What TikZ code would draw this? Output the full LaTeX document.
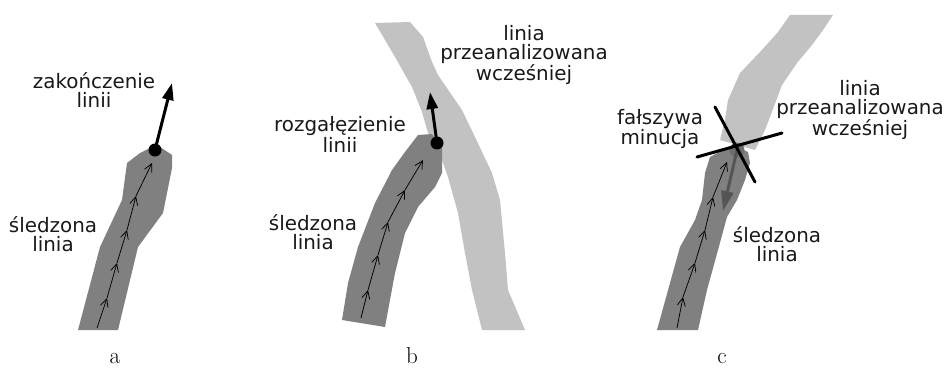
\documentclass[tikz,border=0pt]{standalone}
\usepackage{fontspec}
\newfontfamily\labfont{DejaVu Sans}
\usetikzlibrary{arrows.meta}
\definecolor{bandDark}{HTML}{808080}
\definecolor{bandLight}{HTML}{C2C2C2}
\definecolor{blobGrey}{HTML}{6E6E6E}
\definecolor{falseArrow}{HTML}{555555}
\begin{document}
\begin{tikzpicture}[x=1pt,y=-1pt,
  lbl/.style={font=\labfont\fontsize{19.9}{19}\selectfont, align=center, inner sep=0pt, text=black!90},
  caption/.style={font=\fontsize{23}{23}\selectfont, anchor=base, inner sep=0pt},
  darkband/.style={fill=bandDark},
  lightband/.style={fill=bandLight},
  trail/.style={line width=0.75pt, -{Straight Barb[length=8pt,width=8pt]}},
  minutia/.style={circle, fill=black, minimum size=13pt, inner sep=0pt},
  bigarrow/.style={line width=3pt, -{Triangle[length=17pt,width=11pt]}},
  crossline/.style={line width=3pt, line cap=round},
]
\useasboundingbox (0,0) rectangle (945,369);

% ---------------- panel a ----------------
\fill[darkband] (78,330) -- (100,247) -- (122,200) -- (127,163) -- (140,153) -- (150,148)
  -- (160,147) -- (172,155) -- (172,168) -- (163,213) -- (138,247) -- (118,330) -- cycle;
\coordinate (a0) at (97,328);
\coordinate (a1) at (107,298);
\coordinate (a2) at (117,263);
\coordinate (a3) at (127,230);
\coordinate (a4) at (136,196);
\coordinate (a5) at (152,163);
\foreach \p/\q in {a0/a1,a1/a2,a2/a3,a3/a4,a4/a5} \draw[trail] (\p) -- (\q);
\node[minutia] (dotA) at (155,150) {};
\coordinate (tipA) at (172,83);
\draw[bigarrow] (dotA.center) -- (tipA);
\node[lbl] (endA) at (94,90) {zakończenie\\linii};
\node[lbl] (trackA) at (53,234) {śledzona\\linia};
\node[caption] (capA) at (115,363) {a};

% ---------------- panel b ----------------
\fill[lightband] (375,23) -- (410,22) -- (423,37) -- (432,62) -- (438,75) -- (462,110) -- (475,137)
  -- (492,173) -- (500,200) -- (505,253) -- (508,290) -- (525,330) -- (482,330) -- (472,290)
  -- (465,253) -- (458,213) -- (448,177) -- (442,160) -- (428,133) -- (422,112) -- (412,87)
  -- (395,57) -- cycle;
\fill[darkband] (342,320) -- (348,283) -- (358,247) -- (375,203) -- (392,170) -- (405,152)
  -- (418,135) -- (432,134) -- (442,148) -- (442,173) -- (435,187) -- (418,207) -- (405,233)
  -- (395,273) -- (385,327) -- cycle;
\coordinate (b0) at (361,318);
\coordinate (b1) at (368,290);
\coordinate (b2) at (378,255);
\coordinate (b3) at (388,222);
\coordinate (b4) at (405,190);
\coordinate (b5) at (423,160);
\foreach \p/\q in {b0/b1,b1/b2,b2/b3,b3/b4,b4/b5} \draw[trail] (\p) -- (\q);
\node[minutia] (dotB) at (437,143) {};
\coordinate (tipB) at (430,92);
\draw[bigarrow] (dotB.center) -- (tipB);
\node[lbl] (branchB) at (340,134.5) {rozgałęzienie\\linii};
\node[lbl] (trackB) at (313,232) {śledzona\\linia};
\node[lbl] (prevB) at (524,55) {linia\\przeanalizowana\\wcześniej};
\node[caption] (capB) at (412,363) {b};

% ---------------- panel c ----------------
\fill[lightband] (790,15) -- (833,15) -- (823,30) -- (812,45) -- (797,63) -- (782,85) -- (770,117)
  -- (765,130) -- (755,150) -- (720,140) -- (725,120) -- (728,100) -- (740,73) -- (760,52)
  -- (778,32) -- cycle;
\fill[darkband] (657,330) -- (670,283) -- (680,247) -- (695,220) -- (702,200) -- (705,173)
  -- (710,157) -- (723,150) -- (737,147) -- (748,152) -- (750,163) -- (745,180) -- (737,200)
  -- (727,217) -- (718,250) -- (707,290) -- (698,330) -- cycle;
\coordinate (c0) at (677,328);
\coordinate (c1) at (683,297);
\coordinate (c2) at (695,263);
\coordinate (c3) at (705,230);
\coordinate (c4) at (713,197);
\coordinate (c5) at (727,162);
\foreach \p/\q in {c0/c1,c1/c2,c2/c3,c3/c4,c4/c5} \draw[trail] (\p) -- (\q);
\node[circle, fill=blobGrey, minimum size=15pt, inner sep=0pt] (dotC) at (737,150) {};
\coordinate (tipC) at (723,211);
\draw[line width=3pt, falseArrow, -{Triangle[length=20pt,width=12pt]}] (dotC.center) -- (tipC);
\coordinate (x1s) at (715,107);
\coordinate (x1e) at (755,182);
\coordinate (x2s) at (697,157);
\coordinate (x2e) at (782,133);
\draw[crossline] (x1s) -- (x1e);
\draw[crossline] (x2s) -- (x2e);
\node[lbl] (falseC) at (660,129) {fałszywa\\minucja};
\node[lbl] (prevC) at (860,110) {linia\\przeanalizowana\\wcześniej};
\node[lbl] (trackC) at (777,244.5) {śledzona\\linia};
\node[caption] (capC) at (722,363) {c};
\end{tikzpicture}
\end{document}
